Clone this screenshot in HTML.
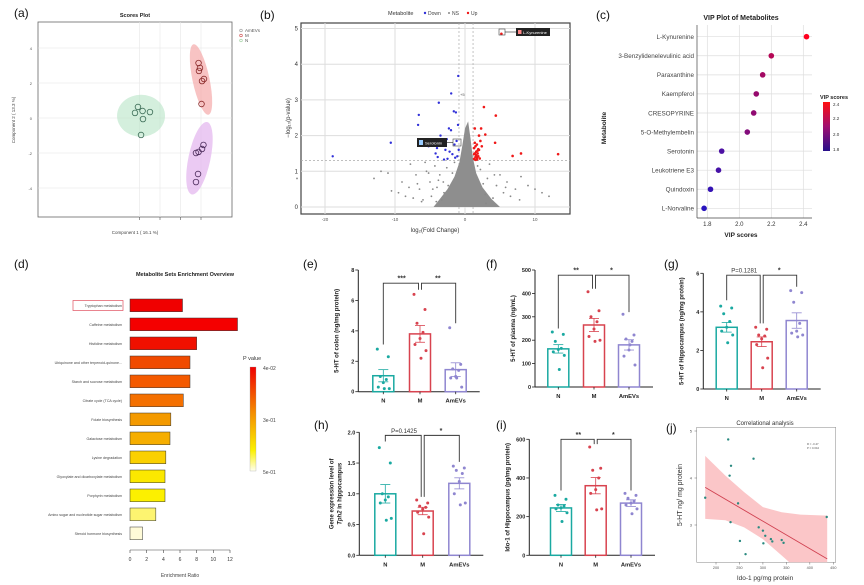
<!DOCTYPE html>
<html><head><meta charset="utf-8"><style>
body{margin:0;background:#fff}
svg{font-family:"Liberation Sans",Arial,sans-serif;display:block}
</style></head><body>
<svg id="fig" width="864" height="585" viewBox="0 0 864 585" xmlns="http://www.w3.org/2000/svg"></svg>
<script>
// ---------- DATA ----------
const aN_x=[-4.44,-4.15,-3.7,-2.98,-3.66,-3.85], aN_y=[0.29,0.63,0.4,0.34,-0.06,-0.97];
const aM_x=[1.76,1.9,1.8,2.1,2.29,2.05], aM_y=[3.14,2.86,2.69,2.11,2.23,0.8];
const aA_x=[1.51,1.76,2.1,2.24,1.71,1.51], aA_y=[-2,-1.94,-1.77,-1.54,-3.2,-3.66];
const aTicksX=[-4,-2,0,2], aTicksY=[4,2,0,-2,-4];
const bDown_x=[-0.96,-1.97,-3.74,-1.3,-1.6,-6.6,-6.7,-2.3,-2,-1,-3.5,-10.6,-18.9,-4.5,-4,-3.2,-2.8,-2.2,-1.5,-1.2,-0.9,-5.2,-3.9,-2.5,-1.8,-1.1,-4.2,-3,-2.6,-1.4];
const bDown_y=[3.67,3.18,2.92,2.65,2.68,2.58,2.3,2.2,2.15,2.3,2.0,1.8,1.42,1.72,1.65,1.8,1.6,1.55,1.75,1.85,1.6,1.7,1.4,1.35,1.48,1.42,1.5,1.33,1.9,1.38];
const bUp_x=[2.7,4.4,1.4,2.3,2.9,4.3,6.8,8,13.3,2,5.2,1.3,1.5,1.7,1.9,2.1,1.4,1.6,1.8,2.0,1.3,1.5,1.7,1.9,1.4,1.6,1.8,2.2,1.5,1.7,2.4,1.3];
const bUp_y=[2.8,2.56,2.2,2.2,2.03,1.8,1.43,1.5,1.48,2.0,4.85,1.35,1.4,1.38,1.42,1.36,1.5,1.55,1.5,1.6,1.65,1.7,1.75,1.62,1.8,1.45,1.58,1.85,1.32,1.33,1.7,1.48];
const bNS_x=[-24,-13,-11,-10.5,-9,-8.5,-7.8,-7,-6.5,-6,-5.5,-5,-4.8,-4.3,-4,-3.6,-3.3,-3,-2.6,5,5.5,6,6.5,7.2,8,9,10,11,12,3.5,4,4.5,-8,-9.5,-6.2,-5.7,3,2.6,7.8,-12,-4.6,-3.8,-5.2,-2.4,3.2,4.2,5.8,-6.8,-7.4,2.2,-1.8,-1.5,1.8,2.9,-3.1,-4.1];
const bNS_y=[0.8,0.8,0.95,0.45,0.7,0.3,1.2,0.9,0.5,0.2,1.0,0.7,0.3,1.15,0.55,0.9,0.2,0.4,1.1,0.9,0.4,0.7,0.3,0.5,0.85,0.6,0.5,0.4,0.3,1.2,0.25,0.6,0.55,0.4,0.15,1.25,0.1,0.65,0.2,1.0,0.5,0.75,0.95,0.6,0.8,0.9,0.55,0.65,0.25,1.05,0.95,1.25,1.15,0.35,0.7,0.15];
const bTicksX=[-20,-10,0,10], bTicksY=[0,1,2,3,4,5];
const cNames=["L-Kynurenine","3-Benzylidenelevulinic acid","Paraxanthine","Kaempferol","CRESOPYRINE","5-O-Methylembelin","Serotonin","Leukotriene E3","Quindoxin","L-Norvaline"];
const cVIP=[2.42,2.2,2.146,2.106,2.09,2.05,1.89,1.87,1.82,1.78];
const cTicks=[1.8,2.0,2.2,2.4];
const dNames=["Tryptophan metabolism","Caffeine metabolism","Histidine metabolism","Ubiquinone and other terpenoid-quinone...","Starch and sucrose metabolism","Citrate cycle (TCA cycle)","Folate biosynthesis","Galactose metabolism","Lysine degradation","Glyoxylate and dicarboxylate metabolism","Porphyrin metabolism","Amino sugar and nucleotide sugar metabolism","Steroid hormone biosynthesis"];
const dRatio=[6.3,12.9,8.0,7.2,7.2,6.4,4.9,4.8,4.3,4.2,4.2,3.1,1.5];
const dColor=["#f00000","#f40000","#f01000","#f04a00","#f45a00","#f47000","#f49a00","#f6ae00","#fad000","#fbe800","#fcf000","#fdf470","#fffbd8"];
const dTicks=[0,2,4,6,8,10,12];
const groups=["N","M","AmEVs"];
const eMean=[1.05,3.8,1.45], eSem=[0.4,0.55,0.45];
const ePts=[[2.8,2.3,1.0,0.8,0.6,0.3,0.2,0.2],[6.4,5.4,4.5,3.9,3.5,3.1,2.7,2.2],[4.2,1.8,1.5,1.4,1.0,0.9,0.3,0.9]];
const eTicks=[0,2,4,6,8];
const fMean=[163,265,180], fSem=[18,28,22];
const fPts=[[235,225,195,165,160,150,135,75],[407,326,300,279,248,216,200,195],[311,222,205,195,158,132,94,180]];
const fTicks=[0,100,200,300,400,500];
const gMean=[3.2,2.45,3.55], gSem=[0.25,0.25,0.4];
const gPts=[[4.3,4.2,3.9,3.5,3.2,3.0,2.8,2.4],[3.2,3.1,2.8,2.75,2.6,2.3,1.6,1.1],[5.1,5.0,4.5,3.4,3.0,2.9,2.8,2.7]];
const gTicks=[0,2,4,6];
const hMean=[1.0,0.72,1.17], hSem=[0.15,0.06,0.09];
const hPts=[[1.75,1.5,1.0,0.95,0.9,0.85,0.6,0.57],[0.9,0.85,0.8,0.78,0.75,0.7,0.62,0.35],[1.45,1.42,1.38,1.33,1.2,1.0,0.85,0.82]];
const hTicks=[0,0.5,1.0,1.5,2.0];
const iMean=[245,360,270], iSem=[18,42,17];
const iPts=[[310,290,260,255,245,240,220,175],[560,450,440,400,340,320,240,235],[320,310,295,280,270,260,240,215]];
const iTicks=[0,200,400,600];
const jX=[226,232,229,280,177,247,231,291,300,305,317,320,340,344,251,301,263,436];
const jY=[4.82,4.26,4.05,4.41,3.58,3.46,3.06,2.95,2.88,2.77,2.70,2.65,2.68,2.62,2.66,2.61,2.38,3.17];
const jFitX=[177,437], jFitY=[3.8,2.28];
const jBandX=[177,220,260,300,340,380,437];
const jBandUp=[4.47,4.05,3.7,3.38,3.27,3.22,3.2];
const jBandLo=[3.13,3.1,2.95,2.7,2.35,2.0,1.45];
const jTicksX=[200,250,300,350,400,450], jTicksY=[3,4,5];

// ---------- HELPERS ----------
const NS="http://www.w3.org/2000/svg";
const fig=document.getElementById('fig');
function el(tag,attrs,parent,text){const e=document.createElementNS(NS,tag);for(const k in attrs)e.setAttribute(k,attrs[k]);if(text!==undefined)e.textContent=text;(parent||fig).appendChild(e);return e;}
function grp(name,parent){const g=el('g',{},parent);


return g;}
function txt(g,x,y,s,size,opts){const o=Object.assign({'font-size':size,x:x,y:y,fill:'#222'},opts||{});return el('text',o,g,s);}
function lin(s,d0,d1,r0,r1){return v=>r0+(v-d0)*(r1-r0)/(d1-d0);}

const plab=[["(a)",14,17],["(b)",260,19],["(c)",596,19],["(d)",14,268],["(e)",303,268],["(f)",486,268],["(g)",664,268],["(h)",314,429],["(i)",496,429],["(j)",666,432]];
plab.forEach(p=>{const t=txt(fig,p[1],p[2],p[0],12,{fill:'#111'});

});

// ---------- (a) ----------
(function(){
const g=grp('scores-plot');
const X=lin(0,-2,2,160,201), Y=lin(0,0,4,118,48);
el('rect',{x:38,y:22,width:194,height:195,fill:'#fff',stroke:'#666','stroke-width':0.8},g);
aTicksX.forEach(v=>{el('line',{x1:X(v),x2:X(v),y1:22,y2:217,stroke:'#e6e6e6','stroke-width':0.6},g);el('line',{x1:X(v),x2:X(v),y1:217,y2:220,stroke:'#555','stroke-width':0.6},g);});
aTicksY.forEach(v=>{el('line',{x1:38,x2:232,y1:Y(v),y2:Y(v),stroke:'#e6e6e6','stroke-width':0.6},g);txt(g,32,Y(v)+2,String(v),4,{fill:'#555','text-anchor':'end'});});
el('ellipse',{cx:X(-3.85),cy:Y(0.13),rx:24,ry:21,fill:'#b7e4c7','fill-opacity':0.6},g);
el('ellipse',{cx:X(2.0),cy:Y(2.2),rx:8.5,ry:36,fill:'#f5a3a3','fill-opacity':0.65,transform:`rotate(-12 ${X(2.0)} ${Y(2.2)})`},g);
el('ellipse',{cx:X(1.85),cy:Y(-2.3),rx:11,ry:37,fill:'#e2b4ee','fill-opacity':0.7,transform:`rotate(12 ${X(1.85)} ${Y(-2.3)})`},g);
[[aN_x,aN_y,'#3a6b55','n'],[aM_x,aM_y,'#8a2a2a','m'],[aA_x,aA_y,'#4a2a5a','amevs']].forEach(s=>{
 s[0].forEach((v,i)=>{const c=el('circle',{cx:X(v),cy:Y(s[1][i]),r:2.8,fill:'none',stroke:s[2],'stroke-width':0.8},g);
 
 });});
txt(g,135,17,'Scores Plot',5.5,{'text-anchor':'middle','font-weight':'bold'});
txt(g,135,234,'Component 1 ( 16.1 %)',4.5,{'text-anchor':'middle',fill:'#444'});
txt(g,0,0,'Component 2 ( 13.3 %)',4.5,{'text-anchor':'middle',fill:'#444',transform:'translate(15,120) rotate(-90)'});
[['AmEVs','#999',32],['M','#c44',37],['N','#9c9',42]].forEach(l=>{el('circle',{cx:241,cy:l[2]-1.5,r:1.3,fill:'none',stroke:l[1],'stroke-width':0.6},g);txt(g,245,l[2],l[0],4.5,{fill:'#555'});});
})();

// ---------- (b) ----------
(function(){
const g=grp('volcano-plot');
const X=lin(0,0,10,465,535), Y=lin(0,0,5,207,28.5);
el('rect',{x:301,y:23,width:269,height:191,fill:'#fff',stroke:'#444','stroke-width':1.2},g);
bTicksX.forEach(v=>{el('line',{x1:X(v),x2:X(v),y1:23,y2:214,stroke:'#ddd','stroke-width':1},g);txt(g,X(v),221,String(v),4.5,{fill:'#555','text-anchor':'middle'});});
bTicksY.forEach(v=>{el('line',{x1:301,x2:570,y1:Y(v),y2:Y(v),stroke:'#ddd','stroke-width':1},g);txt(g,298,Y(v)+2,String(v),6,{fill:'#333','text-anchor':'end'});});
el('line',{x1:X(-0.86),x2:X(-0.86),y1:23,y2:214,stroke:'#aaa','stroke-dasharray':'2,2','stroke-width':0.7},g);
el('line',{x1:X(1.15),x2:X(1.15),y1:23,y2:214,stroke:'#aaa','stroke-dasharray':'2,2','stroke-width':0.7},g);
el('line',{x1:301,x2:570,y1:Y(1.3),y2:Y(1.3),stroke:'#aaa','stroke-dasharray':'2,2','stroke-width':0.7},g);
const cloud=[[-4.5,0],[-3.5,0.25],[-2.5,0.5],[-1.5,0.85],[-0.8,1.25],[-0.4,1.7],[0,2.2],[0.45,2.4],[0.8,1.9],[1.1,1.4],[1.6,0.95],[2.5,0.55],[3.8,0.22],[5,0]];
el('polygon',{points:cloud.map(p=>X(p[0])+','+Y(p[1])).join(' '),fill:'#8e8e8e'},g);
bNS_x.forEach((v,i)=>{const c=el('circle',{cx:X(v),cy:Y(bNS_y[i]),r:0.9,fill:'#888'},g);

});
bDown_x.forEach((v,i)=>{const c=el('circle',{cx:X(v),cy:Y(bDown_y[i]),r:1.2,fill:'#3030d8'},g);

});
bUp_x.forEach((v,i)=>{const c=el('circle',{cx:X(v),cy:Y(bUp_y[i]),r:1.3,fill:'#f01818'},g);

});
el('rect',{x:499,y:29,width:6,height:6,fill:'none',stroke:'#444','stroke-width':0.6},g);
el('line',{x1:505,y1:32,x2:516,y2:32,stroke:'#222','stroke-width':0.6},g);
el('rect',{x:516,y:28,width:34,height:8,fill:'#222'},g);
el('rect',{x:518,y:30,width:3.5,height:4,fill:'#f88'},g);
txt(g,523,34,'L-Kynurenine',4,{fill:'#fff'});
el('rect',{x:453,y:139,width:8,height:7,fill:'none',stroke:'#444','stroke-width':0.6},g);
el('line',{x1:447,y1:142.5,x2:453,y2:142.5,stroke:'#222','stroke-width':0.6},g);
el('rect',{x:417,y:138,width:30,height:9,fill:'#222'},g);
el('rect',{x:419,y:140,width:4,height:5,fill:'#9cf'},g);
txt(g,425,144.5,'Serotonin',4,{fill:'#fff'});
txt(g,460,96,'+5',4,{fill:'#555'});
txt(g,388,15,'Metabolite',5.5,{fill:'#333'});
el('circle',{cx:425,cy:13,r:1.2,fill:'#3030d8'},g);txt(g,428,15,'Down',5,{fill:'#444'});
el('circle',{cx:449,cy:13,r:1,fill:'#888'},g);txt(g,452,15,'NS',5,{fill:'#444'});
el('circle',{cx:468,cy:13,r:1.2,fill:'#f01818'},g);txt(g,471,15,'Up',5,{fill:'#444'});
txt(g,435,232,'log\u2082(Fold Change)',6,{'text-anchor':'middle',fill:'#333'});
txt(g,0,0,'\u2212log\u2081\u2080(p-value)',6,{'text-anchor':'middle',fill:'#333',transform:'translate(290,118) rotate(-90)'});
})();

// ---------- (c) ----------
(function(){
const g=grp('vip-plot');
const X=lin(0,1.8,2.4,707.3,803.3);
const Y=i=>36.7+i*19.07;
cTicks.forEach(v=>{el('line',{x1:X(v),x2:X(v),y1:25,y2:218,stroke:'#ddd','stroke-width':0.7},g);txt(g,X(v),226,v.toFixed(1),6,{'text-anchor':'middle',fill:'#333'});});
cNames.forEach((n,i)=>{el('line',{x1:697,x2:812,y1:Y(i),y2:Y(i),stroke:'#ddd','stroke-width':0.7},g);txt(g,694,Y(i)+2.3,n,6.3,{'text-anchor':'end',fill:'#444'});});
el('line',{x1:697,x2:697,y1:25,y2:218,stroke:'#444','stroke-width':0.7},g);
el('line',{x1:697,x2:812,y1:218,y2:218,stroke:'#444','stroke-width':0.7},g);
const col=v=>{const t=Math.max(0,Math.min(1,(v-1.78)/(2.42-1.78)));return `rgb(${Math.round(40+215*t)},${Math.round(20*(1-t))},${Math.round(160*(1-t)+30)})`;};
cVIP.forEach((v,i)=>{const c=el('circle',{cx:X(v),cy:Y(i),r:2.8,fill:col(v)},g);

});
txt(g,741,20,'VIP Plot of Metabolites',7,{'text-anchor':'middle','font-weight':'bold',fill:'#222'});
txt(g,741,237,'VIP scores',6.5,{'text-anchor':'middle','font-weight':'bold',fill:'#222'});
txt(g,0,0,'Metabolite',6.5,{'text-anchor':'middle','font-weight':'bold',fill:'#222',transform:'translate(606,128) rotate(-90)'});
const defs=el('defs',{},g);const lg=el('linearGradient',{id:'vipg',x1:0,y1:1,x2:0,y2:0},defs);
el('stop',{offset:0,'stop-color':'#28108a'},lg);el('stop',{offset:0.5,'stop-color':'#a01070'},lg);el('stop',{offset:1,'stop-color':'#ff1010'},lg);
el('rect',{x:823,y:102,width:7,height:49,fill:'url(#vipg)'},g);
txt(g,820,99,'VIP scores',5.5,{'font-weight':'bold'});
[['2.4',106],['2.2',120],['2.0',136],['1.8',151]].forEach(t=>txt(g,833,t[1],t[0],4.5,{fill:'#333'}));
})();

// ---------- (d) ----------
(function(){
const g=grp('enrichment-chart');
const X=lin(0,0,12,130,230);
const Y=i=>299+i*19;
txt(g,185,276,'Metabolite Sets Enrichment Overview',5.5,{'text-anchor':'middle','font-weight':'bold'});
dNames.forEach((n,i)=>{const r=el('rect',{x:X(0),y:Y(i),width:X(dRatio[i])-X(0),height:12.7,fill:dColor[i],stroke:'#333','stroke-width':0.5},g);


txt(g,122,Y(i)+8,n,3.6,{'text-anchor':'end',fill:'#444'});});
el('rect',{x:73,y:300.5,width:50,height:10,fill:'none',stroke:'#e05060','stroke-width':0.7},g);
el('line',{x1:X(0),x2:X(12),y1:550,y2:550,stroke:'#444','stroke-width':0.6},g);
dTicks.forEach(v=>{el('line',{x1:X(v),x2:X(v),y1:550,y2:553,stroke:'#444','stroke-width':0.6},g);txt(g,X(v),561,String(v),5,{'text-anchor':'middle',fill:'#333'});});
txt(g,180,577,'Enrichment Ratio',5,{'text-anchor':'middle',fill:'#444'});
const defs=el('defs',{},g);const lg=el('linearGradient',{id:'pg',x1:0,y1:0,x2:0,y2:1},defs);
el('stop',{offset:0,'stop-color':'#f00000'},lg);el('stop',{offset:0.45,'stop-color':'#f49000'},lg);el('stop',{offset:0.8,'stop-color':'#fbf000'},lg);el('stop',{offset:1,'stop-color':'#fffff0'},lg);
el('rect',{x:250,y:367,width:6,height:104,fill:'url(#pg)',stroke:'#999','stroke-width':0.3},g);
txt(g,243,360,'P value',5.5,{fill:'#333'});
[['4e-02',370],['3e-01',422],['5e-01',474]].forEach(t=>txt(g,263,t[1],t[0],5,{fill:'#444'}));
})();

// ---------- bar panels ----------
const colors=['#1aa9a1','#d8434f','#8f86d0'];
const jit=[-6,5,-3,3,0,-5,6,1];
function barPanel(name,ax,y0,yTop,vmax,ticks,cx,means,sems,pts,sig,bracketV,dropV,ylab,ylab2,fmt){
 const g=grp(name);
 const Y=lin(0,0,vmax,y0,yTop);
 el('line',{x1:ax,x2:ax,y1:yTop,y2:y0,stroke:'#222','stroke-width':1},g);
 el('line',{x1:ax,x2:cx[2]+24,y1:y0,y2:y0,stroke:'#222','stroke-width':1},g);
 ticks.forEach(v=>{el('line',{x1:ax-3,x2:ax,y1:Y(v),y2:Y(v),stroke:'#222','stroke-width':0.8},g);txt(g,ax-4,Y(v)+2,fmt(v),5.5,{'text-anchor':'end','font-weight':'bold'});});
 groups.forEach((gr,i)=>{
  const r=el('rect',{x:cx[i]-10.5,y:Y(means[i]),width:21,height:y0-Y(means[i]),fill:'#fff',stroke:colors[i],'stroke-width':1.5},g);
  
  
  el('line',{x1:cx[i],x2:cx[i],y1:Y(means[i]-sems[i]),y2:Y(means[i]+sems[i]),stroke:colors[i],'stroke-width':0.8},g);
  [means[i]+sems[i],means[i]-sems[i]].forEach(v=>el('line',{x1:cx[i]-5,x2:cx[i]+5,y1:Y(v),y2:Y(v),stroke:colors[i],'stroke-width':0.8},g));
  pts[i].forEach((v,k)=>{const c=el('circle',{cx:cx[i]+jit[k],cy:Y(v),r:1.5,fill:colors[i]},g);
   
   });
  el('line',{x1:cx[i],x2:cx[i],y1:y0,y2:y0+2.5,stroke:'#222','stroke-width':0.8},g);
  txt(g,cx[i],y0+11,gr,5.8,{'text-anchor':'middle','font-weight':'bold'});
 });
 const by=Y(bracketV);
 el('polyline',{points:`${cx[0]},${Y(dropV[0])} ${cx[0]},${by} ${cx[1]-1.5},${by} ${cx[1]-1.5},${Y(dropV[1])}`,fill:'none',stroke:'#333','stroke-width':0.9},g);
 el('polyline',{points:`${cx[1]+1.5},${Y(dropV[1])} ${cx[1]+1.5},${by} ${cx[2]},${by} ${cx[2]},${Y(dropV[2])}`,fill:'none',stroke:'#333','stroke-width':0.9},g);
 txt(g,(cx[0]+cx[1])/2,by-2.5,sig[0],sig[0].length>3?6:7,{'text-anchor':'middle','font-weight':sig[0].length>3?'normal':'bold',fill:'#333'});
 txt(g,(cx[1]+cx[2])/2,by-2.5,sig[1],7,{'text-anchor':'middle','font-weight':'bold',fill:'#333'});
 const lx=ax-20, ly=(y0+yTop)/2;
 if(ylab2){txt(g,0,0,ylab,6,{'text-anchor':'middle','font-weight':'bold',transform:`translate(${lx-6},${ly}) rotate(-90)`});
  const t=txt(g,0,0,'',6,{'text-anchor':'middle','font-weight':'bold',transform:`translate(${lx+2},${ly}) rotate(-90)`});
  el('tspan',{'font-style':'italic'},t,'Tph2');el('tspan',{},t,' in hippocampus');}
 else txt(g,0,0,ylab,6,{'text-anchor':'middle','font-weight':'bold',transform:`translate(${lx},${ly}) rotate(-90)`});
}
const f0=v=>String(v), f1=v=>v.toFixed(1);
barPanel('colon-5ht-chart',358.3,391.7,270,8,eTicks,[383.3,420,455.7],eMean,eSem,ePts,['***','**'],7.13,[3.1,6.7,4.5],'5-HT of  colon (ng/mg protein)',false,f0);
barPanel('plasma-5ht-chart',535,387,270,500,fTicks,[558.3,594,629],fMean,fSem,fPts,['**','*'],478,[250,420,320],'5-HT of  plasma (ng/mL)',false,f0);
barPanel('hippocampus-5ht-chart',703.3,389,273.3,6,gTicks,[726.7,761.7,796.7],gMean,gSem,gPts,['P=0.1281','*'],5.9,[4.6,3.4,5.3],'5-HT of Hippocampus (ng/mg protein)',false,f0);
barPanel('tph2-expression-chart',359.3,555.3,432.3,2,hTicks,[385.3,422.7,459.3],hMean,hSem,hPts,['P=0.1425','*'],1.95,[1.85,0.95,1.52],'Gene expression level of',true,f1);
barPanel('ido1-chart',529.3,555.3,439.3,600,iTicks,[561,595.7,631],iMean,iSem,iPts,['**','*'],600,[335,575,335],'Ido-1 of Hippocampus (pg/mg protein)',false,f0);

// ---------- (j) ----------
(function(){
const g=grp('correlation-plot');
const X=lin(0,200,450,716,833.3), Y=lin(0,3,5,525,431);
const defs=el('defs',{},g);const cp=el('clipPath',{id:'jclip'},defs);el('rect',{x:696.7,y:427.3,width:139,height:135},cp);
el('rect',{x:696.7,y:427.3,width:139,height:135,fill:'#fff',stroke:'#999','stroke-width':0.6},g);
const pts=jBandX.map((x,i)=>X(x)+','+Y(jBandUp[i])).concat(jBandX.slice().reverse().map((x,i)=>X(x)+','+Y(jBandLo[jBandX.length-1-i])));
el('polygon',{points:pts.join(' '),fill:'#f9b3b6','fill-opacity':0.75,'clip-path':'url(#jclip)'},g);
el('line',{x1:X(jFitX[0]),y1:Y(jFitY[0]),x2:X(jFitX[1]),y2:Y(jFitY[1]),stroke:'#d04050','stroke-width':0.9},g);
jX.forEach((v,i)=>{const c=el('circle',{cx:X(v),cy:Y(jY[i]),r:1.2,fill:'#2a8a80'},g);

});
jTicksX.forEach(v=>{el('line',{x1:X(v),x2:X(v),y1:562.3,y2:564.5,stroke:'#666','stroke-width':0.5},g);txt(g,X(v),569,String(v),3.8,{'text-anchor':'middle',fill:'#555'});});
jTicksY.forEach(v=>{el('line',{x1:694.5,x2:696.7,y1:Y(v),y2:Y(v),stroke:'#666','stroke-width':0.5},g);txt(g,692,Y(v)+1.5,String(v),4,{'text-anchor':'end',fill:'#555'});});
txt(g,807,445,'R = -0.47',2.8,{fill:'#555'});txt(g,807,449,'P = 0.042',2.8,{fill:'#555'});
txt(g,765,425,'Correlational analysis',6,{'text-anchor':'middle',fill:'#333'});
txt(g,765,580,'Ido-1 pg/mg protein',6.5,{'text-anchor':'middle',fill:'#333'});
txt(g,0,0,'5-HT ng/ mg protein',7,{'text-anchor':'middle',fill:'#333',transform:'translate(682,495) rotate(-90)'});
})();
</script>
</body></html>
